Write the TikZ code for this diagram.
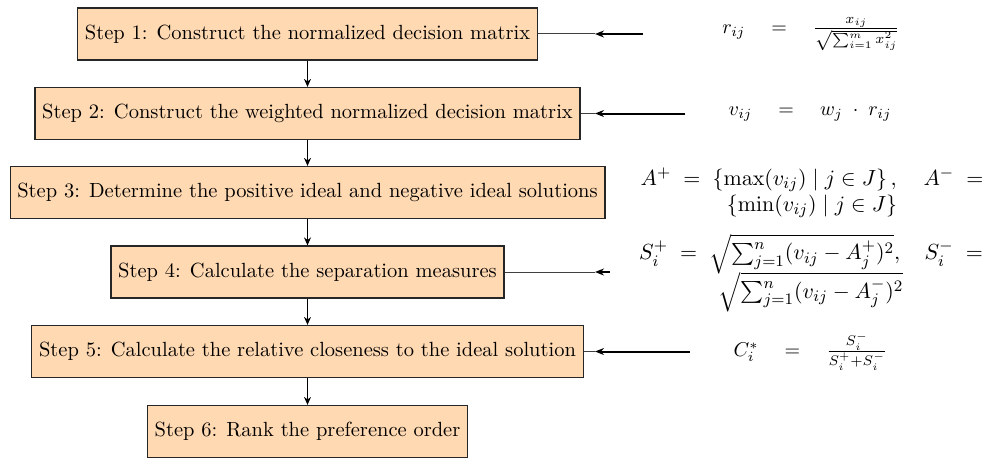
\documentclass[tikz,border=0pt]{standalone}
\usepackage{amsmath}
\usetikzlibrary{arrows.meta}
\begin{document}
\begin{tikzpicture}[x=0.5pt,y=-0.5pt,
  font=\fontsize{10.25}{12.5}\selectfont,
  stepbox/.style={draw=black!85, fill=orange!30, minimum height=26pt, inner xsep=3.6pt, line width=0.6pt},
  flow/.style={-{Stealth[length=4pt,width=3.5pt]}, line width=0.5pt},
  feed/.style={-{Stealth[length=4.5pt,width=3.5pt]}, line width=1pt},
  thinline/.style={line width=0.5pt, draw=black!75},
  formula/.style={inner sep=0pt, align=center},
  bigformula/.style={formula, font=\fontsize{11}{13}\selectfont}]
\useasboundingbox (0,0) rectangle (983,460);
\node[stepbox] (s1) at (307.5,34) {Step 1: Construct the normalized decision matrix};
\node[stepbox] (s2) at (307.5,113.5) {Step 2: Construct the weighted normalized decision matrix};
\node[stepbox] (s3) at (307.5,192.5) {Step 3: Determine the positive ideal and negative ideal solutions};
\node[stepbox] (s4) at (307.5,272) {Step 4: Calculate the separation measures};
\node[stepbox] (s5) at (307.5,351.5) {Step 5: Calculate the relative closeness to the ideal solution};
\node[stepbox] (s6) at (307.5,431.5) {Step 6: Rank the preference order};
\foreach \a/\b in {s1/s2,s2/s3,s3/s4,s4/s5,s5/s6}
  \draw[flow] (\a.south) -- (\b.north);

\node[formula] (f1) at (811,34) {$r_{ij}\quad = \quad\frac{x_{ij}}{\sqrt{\sum_{i=1}^{m} x_{ij}^2}}$};
\node[formula] (f2) at (810,113.5) {$v_{ij}\quad = \quad w_j\;\cdot\; r_{ij}$};
\node[bigformula] (f3) at (812,193) {$A^+ \;=\; \{\max(v_{ij}) \mid j\in J\}\,,\hspace{1.05em} A^- \;=$\\$\{\min(v_{ij}) \mid j\in J\}$};
\node[bigformula] (f4) at (811,273) {$S_i^+ \;=\; \sqrt{\sum_{j=1}^{n}(v_{ij}-A_j^+)^2},\hspace{0.95em} S_i^- \;=$\\[-2pt]$\sqrt{\sum_{j=1}^{n}(v_{ij}-A_j^-)^2}$};
\node[formula] (f5) at (810.5,351.5) {$C_i^*\quad = \quad\frac{S_i^-}{S_i^+ + S_i^-}$};

\coordinate (a1) at (643,34);   \coordinate (m1) at (595,34);
\coordinate (a2) at (685,113.5); \coordinate (m2) at (595,113.5);
\coordinate (a4) at (610,272);  \coordinate (m4) at (595,272);
\coordinate (a5) at (690,351.5); \coordinate (m5) at (595,351.5);
\foreach \k in {1,2,4,5}{
  \draw[thinline] (s\k.east) -- (m\k);
  \draw[feed] (a\k) -- (m\k);
}
\end{tikzpicture}
\end{document}
